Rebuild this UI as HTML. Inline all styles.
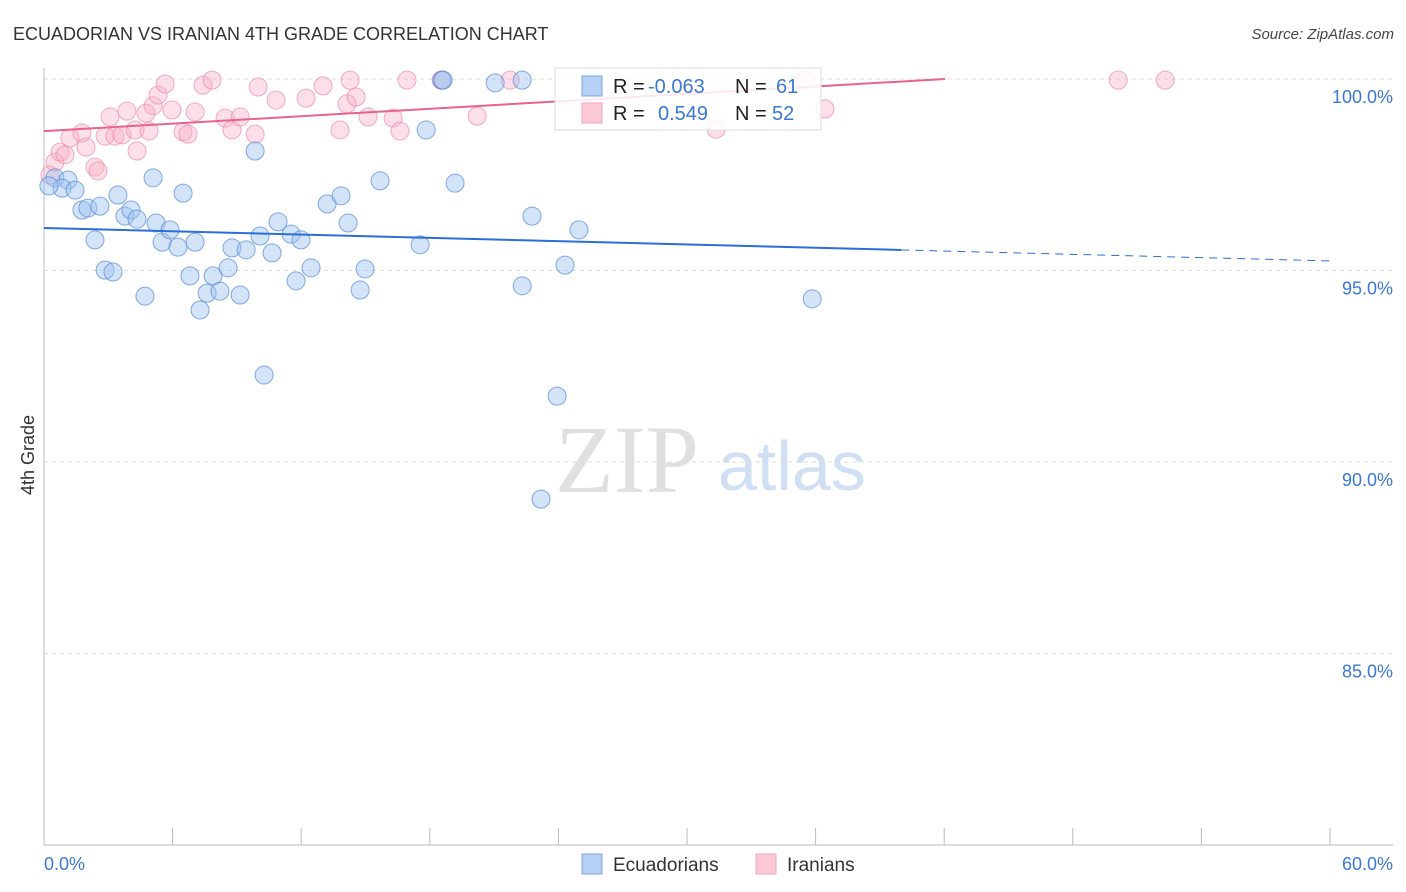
<!DOCTYPE html>
<html><head><meta charset="utf-8"><style>
body{margin:0;background:#fff;font-family:"Liberation Sans",sans-serif;}
svg{display:block}
</style></head><body>
<svg id="chart" width="1406" height="892" xmlns="http://www.w3.org/2000/svg">
<text x="13" y="40" font-size="18" fill="#333">ECUADORIAN VS IRANIAN 4TH GRADE CORRELATION CHART</text>
<text x="1394" y="39" font-size="15" fill="#444" font-style="italic" text-anchor="end">Source: ZipAtlas.com</text>
<g>
<text x="555" y="492" font-family="Liberation Serif,serif" font-size="96" fill="#e0e0e0">ZIP</text>
<text x="718" y="490" font-size="70" fill="#d0dff4">atlas</text>
</g>
<text transform="translate(34,455) rotate(-90)" font-size="18" fill="#333" text-anchor="middle">4th Grade</text>
<g id="grid"></g>
<g id="marks"></g>
<g>
<rect x="555" y="68" width="266" height="62" fill="rgba(255,255,255,0.85)" stroke="#ddd"/>
<rect x="582" y="76" width="20" height="20" fill="#b6d0f5" stroke="#7aa6e6"/>
<rect x="582" y="103" width="20" height="20" fill="#fbc8d6" stroke="#f2a5bb"/>
<text x="613" y="93" font-size="20" fill="#222">R =</text>
<text x="648" y="93" font-size="20" fill="#3a78d4">-0.063</text>
<text x="735" y="93" font-size="20" fill="#222">N =</text>
<text x="776" y="93" font-size="20" fill="#3a78d4">61</text>
<text x="613" y="120" font-size="20" fill="#222">R =</text>
<text x="658" y="120" font-size="20" fill="#3a78d4">0.549</text>
<text x="735" y="120" font-size="20" fill="#222">N =</text>
<text x="772" y="120" font-size="20" fill="#3a78d4">52</text>
</g>
<g>
<rect x="582" y="854" width="20" height="20" fill="#b6d0f5" stroke="#7aa6e6"/>
<text x="613" y="871" font-size="19" fill="#333">Ecuadorians</text>
<rect x="756" y="854" width="20" height="20" fill="#fbc8d6" stroke="#f2a5bb"/>
<text x="787" y="871" font-size="19" fill="#333">Iranians</text>
</g>
</svg>
<script>
const yTicks=[100,95,90,85];
const yTickLabels=["100.0%","95.0%","90.0%","85.0%"];
const xTicks=[0,6,12,18,24,30,36,42,48,54,60];
const blueX=[0.51,1.12,0.84,1.45,1.77,2.05,2.38,2.61,2.85,3.22,3.45,3.78,4.06,4.34,4.71,5.09,5.23,5.51,5.88,6.25,6.49,6.81,7.05,7.28,7.61,7.89,8.21,8.59,8.77,9.15,9.43,9.85,10.08,10.27,10.64,10.92,11.53,11.76,11.99,12.46,13.21,13.86,14.19,14.75,14.98,15.68,17.55,17.83,18.57,18.62,19.18,21.05,22.31,22.31,22.77,23.19,23.94,24.31,24.96,35.84,0.23];
const blueY=[97.42,97.36,97.15,97.10,96.58,96.63,95.80,96.68,95.01,94.96,96.97,96.42,96.58,96.34,94.33,97.42,96.24,95.74,96.06,95.61,97.02,94.86,95.74,93.97,94.41,94.86,94.46,95.07,95.59,94.36,95.54,98.12,95.90,92.27,95.46,96.27,95.95,94.73,95.80,95.07,96.74,96.95,96.24,94.49,95.04,97.34,95.67,98.67,99.97,99.97,97.28,99.90,99.97,94.60,96.42,89.03,91.72,95.14,96.06,94.26,97.21];
const pinkX=[0.28,0.51,0.75,0.98,1.21,1.77,1.96,2.38,2.52,2.85,3.08,3.31,3.64,3.87,4.25,4.34,4.76,4.90,5.09,5.32,5.65,5.97,6.49,6.72,7.05,7.42,7.84,8.45,8.77,9.15,9.85,9.99,10.83,12.23,13.02,13.81,14.14,14.28,14.56,15.12,16.29,16.61,16.94,18.53,20.21,21.75,31.36,35.51,36.44,50.12,52.31];
const pinkY=[97.49,97.83,98.09,98.02,98.46,98.59,98.22,97.70,97.60,98.51,99.01,98.51,98.54,99.16,98.67,98.12,99.11,98.64,99.30,99.58,99.87,99.19,98.62,98.56,99.14,99.84,99.97,98.98,98.67,99.01,98.56,99.79,99.45,99.50,99.82,98.67,99.35,99.97,99.53,99.01,98.98,98.64,99.97,99.97,99.03,99.97,98.69,99.97,99.22,99.97,99.97];
const blueTrend=[96.11,95.25];
const pinkTrend=[98.64,100];
const pinkTrendEndX=42.04;
const NS='http://www.w3.org/2000/svg';
const xs=v=>44+v*21.433;
const ys=v=>79+(100-v)*38.3;
function mk(tag,attrs,parent){const e=document.createElementNS(NS,tag);for(const k in attrs)e.setAttribute(k,attrs[k]);parent.appendChild(e);return e;}
const grid=document.getElementById('grid'),marks=document.getElementById('marks');
yTicks.forEach((t,i)=>{
 const l=mk('line',{x1:44,x2:1393,y1:ys(t),y2:ys(t),stroke:'#ddd','stroke-dasharray':'4,4'},grid);
 
 
 const tx=mk('text',{x:1393,y:ys(t)+24,'font-size':18,fill:'#3a78d4','text-anchor':'end'},grid);
 tx.textContent=yTickLabels[i];
 
 
});
const ax=mk('line',{x1:44,x2:44,y1:68,y2:845,stroke:'#bbb'},grid);


const bx=mk('line',{x1:44,x2:1393,y1:845,y2:845,stroke:'#bbb'},grid);


xTicks.forEach(t=>{
 const l=mk('line',{x1:xs(t),x2:xs(t),y1:828,y2:845,stroke:'#bbb'},grid);
 
 
});
const xl0=mk('text',{x:44,y:870,'font-size':18,fill:'#3a78d4'},grid);xl0.textContent='0.0%';


const xl1=mk('text',{x:1393,y:870,'font-size':18,fill:'#3a78d4','text-anchor':'end'},grid);xl1.textContent='60.0%';


pinkX.forEach((x,i)=>{
 const c=mk('circle',{cx:xs(x),cy:ys(pinkY[i]),r:9,fill:'rgba(248,175,198,0.4)',stroke:'rgba(236,140,170,0.7)','stroke-width':1},marks);
 
 
});
blueX.forEach((x,i)=>{
 const c=mk('circle',{cx:xs(x),cy:ys(blueY[i]),r:9,fill:'rgba(160,195,240,0.45)',stroke:'rgba(80,135,215,0.7)','stroke-width':1},marks);
 
 
});
const bSolidEnd=40;
const bAt=x=>blueTrend[0]+(blueTrend[1]-blueTrend[0])*x/60;
const bt=mk('line',{x1:xs(0),y1:ys(bAt(0)),x2:xs(bSolidEnd),y2:ys(bAt(bSolidEnd)),stroke:'#2a6fd6','stroke-width':2},marks);


const bd=mk('line',{x1:xs(bSolidEnd),y1:ys(bAt(bSolidEnd)),x2:xs(60),y2:ys(bAt(60)),stroke:'#2a6fd6','stroke-width':1,'stroke-dasharray':'8,6'},marks);


const pt=mk('line',{x1:xs(0),y1:ys(pinkTrend[0]),x2:xs(pinkTrendEndX),y2:ys(pinkTrend[1]),stroke:'#e8638e','stroke-width':2},marks);


</script>
</body></html>
